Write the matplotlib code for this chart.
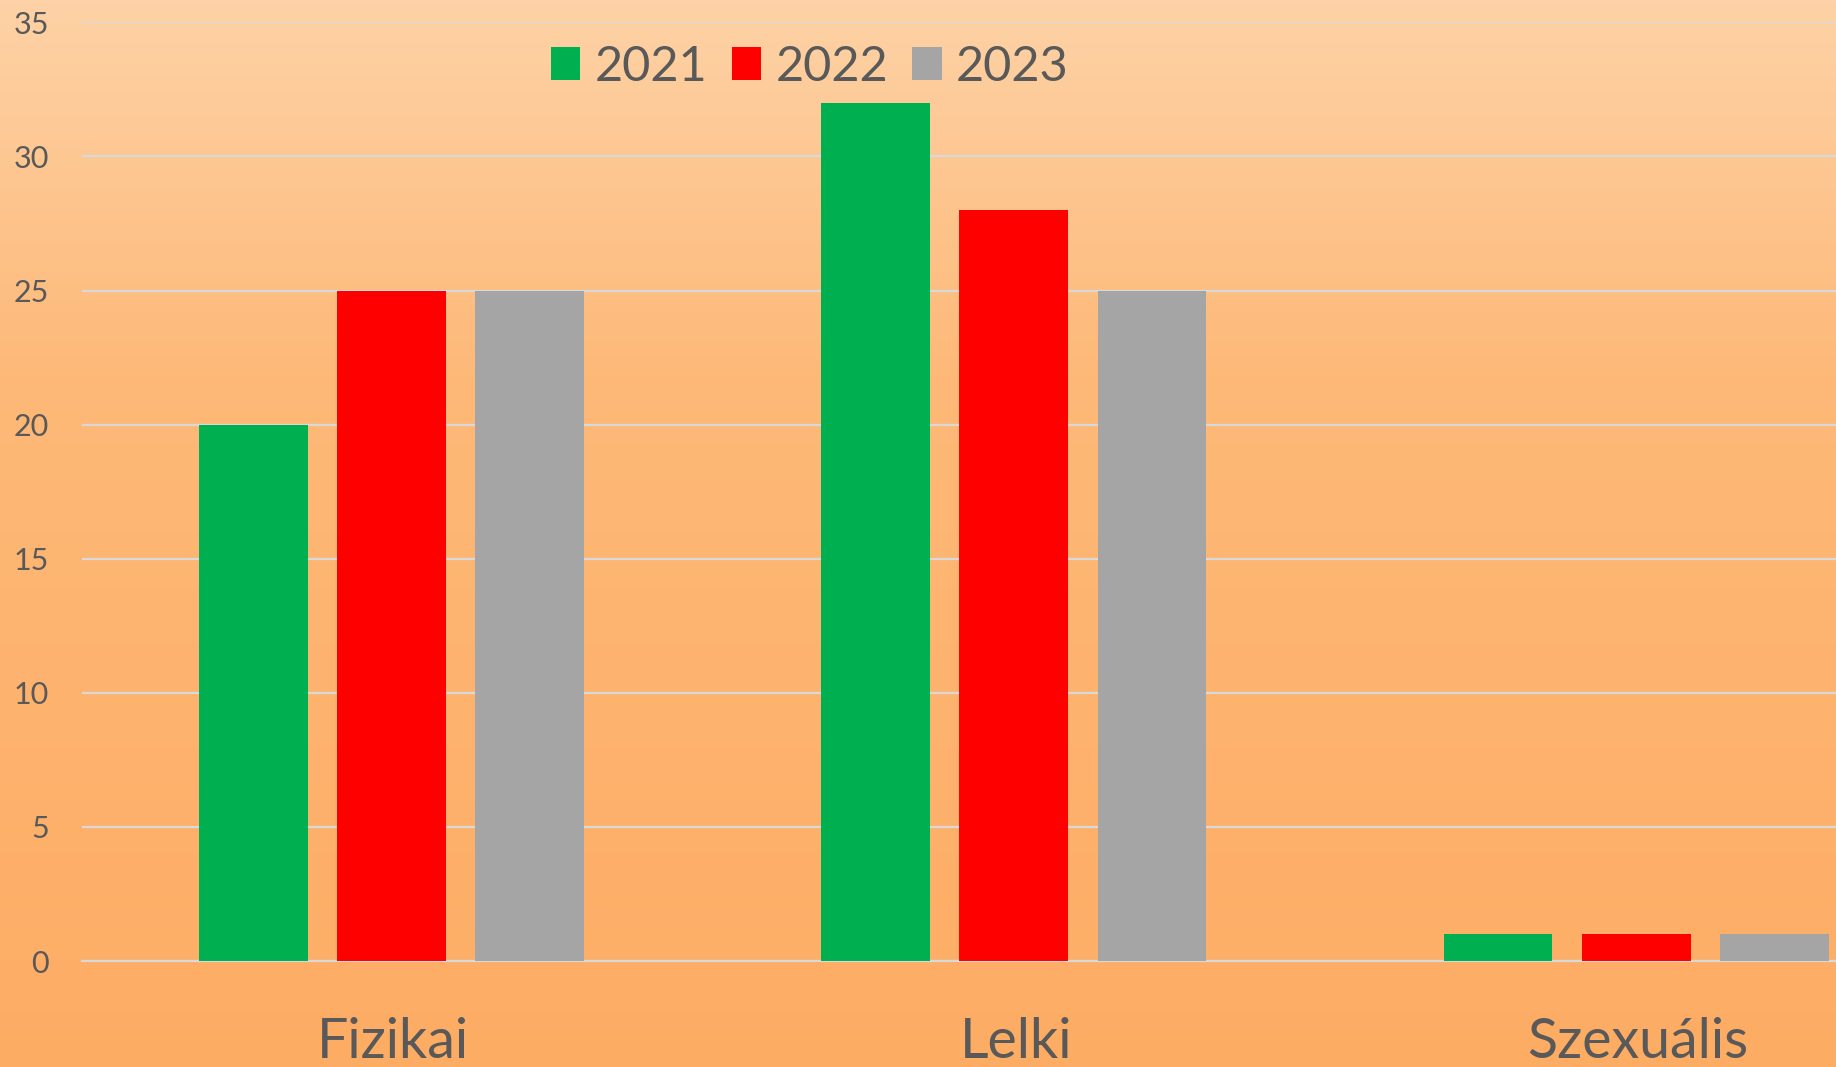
import matplotlib
matplotlib.use('Agg')
from matplotlib import pyplot as plt
import numpy as np

plt.rcParams['font.family'] = ['Lato', 'DejaVu Sans']

categories = ['Fizikai', 'Lelki', 'Szexuális']
years = ['2021', '2022', '2023']
values_2021 = [20, 32, 1]
values_2022 = [25, 28, 1]
values_2023 = [25, 25, 1]
colors = ['#00B050', '#FF0000', '#A5A5A5']

fig = plt.figure(figsize=(18.36, 10.67), dpi=100)

# orange background, lighter towards the top
bg = fig.add_axes([0, 0, 1, 1], zorder=0)
t = np.linspace(0, 1, 256)[:, None]
top = np.array([253, 210, 166]) / 255
mid = np.array([253, 185, 120]) / 255
bot = np.array([253, 172, 100]) / 255
grad = np.where(t < 0.35, top + (mid - top) * (t / 0.35), mid + (bot - mid) * ((t - 0.35) / 0.65))
img = np.repeat(grad[:, None, :], 4, axis=1).reshape(256, 4, 3)
bg.imshow(img, aspect='auto', extent=[0, 1, 0, 1])
bg.axis('off')

ax = fig.add_axes([0.0447, 0.0993, 0.9553, 0.8797], zorder=1)
ax.patch.set_alpha(0)

x = np.arange(len(categories))
width = 0.175
offsets = [-0.222, 0, 0.222]
series = [values_2021, values_2022, values_2023]
for i, (vals, yr) in enumerate(zip(series, years)):
    ax.bar(x + offsets[i] - 0.003, vals, width, color=colors[i], label=yr, zorder=3)

ax.set_xlim(-0.5, 2.318)
ax.set_ylim(0, 35)
ax.set_yticks(range(0, 36, 5))
ax.yaxis.grid(True, color='#D9D9D9', linewidth=1.6, zorder=1)
ax.set_axisbelow(True)
ax.set_xticks(x)
ax.set_xticklabels(categories)
for s in ['top', 'right', 'left']:
    ax.spines[s].set_visible(False)
ax.spines['bottom'].set_color('#D9D9D9')
ax.spines['bottom'].set_linewidth(1.6)
ax.tick_params(axis='y', length=0, pad=24, labelsize=22, labelcolor='#595959')
ax.tick_params(axis='x', length=0, pad=40, labelsize=40, labelcolor='#595959')

leg = ax.legend(loc='center', bbox_to_anchor=(0.415, 0.953), ncol=3, frameon=False,
                fontsize=35, labelcolor='#595959', handlelength=0.6, handleheight=0.65,
                handletextpad=0.3, columnspacing=0.5)

fig.savefig('out.png', dpi=100)
